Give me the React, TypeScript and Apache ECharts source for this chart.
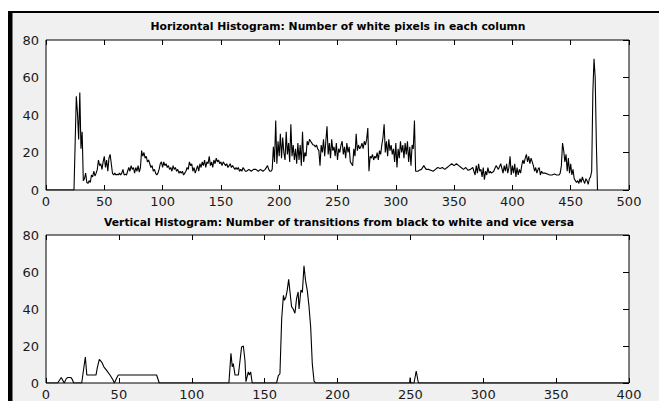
import React, { useEffect, useRef } from "react";
import * as echarts from "echarts";

// Column index -> number of white pixels (top plot)
const horizontalHistogram: [number, number][] = [
  [0, 0], [24, 0], [25, 25], [26, 50], [27, 41], [28, 27], [29, 52], [30, 22], [31, 31], [32, 5],
  [33, 6], [34, 9], [35, 4], [36, 3.5], [37, 5], [38, 4], [39, 8], [40, 7], [41, 10], [42, 7.5],
  [43, 9], [44, 11], [45, 16], [46, 13], [47, 14], [48, 11], [49, 15], [50, 18], [51, 12], [52, 16],
  [53, 10], [54, 17], [55, 19], [56, 14], [57, 9], [58, 8], [59, 9], [60, 8], [61, 8.5], [62, 8],
  [63, 9], [64, 8], [65, 9], [66, 11], [67, 8], [68, 8.5], [69, 8], [70, 10], [71, 12], [72, 10],
  [73, 13], [74, 11], [75, 12], [76, 9], [77, 12], [78, 10], [79, 13], [80, 9.5], [81, 12], [82, 21],
  [83, 18], [84, 20], [85, 17], [86, 18], [87, 15], [88, 16], [89, 14], [90, 12], [91, 13], [92, 10],
  [93, 11], [94, 9], [95, 8], [96, 9], [97, 11], [98, 14], [99, 15], [100, 12], [101, 15], [102, 13],
  [103, 14], [104, 12], [105, 13], [106, 11], [107, 12], [108, 10], [109, 13], [110, 11], [111, 12], [112, 10],
  [113, 11], [114, 9], [115, 10], [116, 9], [117, 10], [118, 8], [119, 9], [120, 10], [121, 12], [122, 11],
  [123, 15], [124, 13], [125, 14], [126, 10], [127, 12], [128, 9], [129, 11], [130, 13], [131, 10], [132, 14],
  [133, 12], [134, 15], [135, 13], [136, 16], [137, 12], [138, 15], [139, 14], [140, 18], [141, 13], [142, 15],
  [143, 12], [144, 16], [145, 14], [146, 17], [147, 15], [148, 16], [149, 14], [150, 15], [151, 13], [152, 15],
  [153, 14], [154, 13], [155, 14], [156, 12], [157, 13], [158, 14], [159, 12], [160, 13], [161, 12], [162, 11],
  [163, 12], [164, 11], [165, 12], [166, 10], [167, 11], [168, 10], [169, 12], [170, 11], [171, 10], [172, 10],
  [174, 11], [176, 10], [178, 11], [180, 11], [182, 10], [184, 11], [186, 10], [188, 11], [190, 13], [191, 11],
  [192, 10], [193, 10], [194, 11], [195, 23], [196, 15], [197, 37], [198, 14], [199, 26], [200, 18], [201, 30],
  [202, 17], [203, 28], [204, 20], [205, 16], [206, 31], [207, 19], [208, 25], [209, 15], [210, 35], [211, 18],
  [212, 24], [213, 16], [214, 22], [215, 14], [216, 25], [217, 16], [218, 24], [219, 13], [220, 31], [221, 15],
  [222, 20], [223, 18], [224, 26], [225, 24], [226, 27], [227, 26], [228, 25], [229, 24], [230, 24], [231, 23],
  [232, 24], [233, 22], [234, 21], [235, 13], [236, 24], [237, 20], [238, 27], [239, 18], [240, 26], [241, 34],
  [242, 19], [243, 25], [244, 17], [245, 27], [246, 21], [247, 23], [248, 18], [249, 25], [250, 16], [251, 22],
  [252, 20], [253, 24], [254, 26], [255, 19], [256, 23], [257, 17], [258, 25], [259, 20], [260, 23], [261, 15],
  [262, 14], [263, 13], [264, 22], [265, 18], [266, 30], [267, 21], [268, 24], [269, 22], [270, 23], [271, 25],
  [272, 22], [273, 26], [274, 24], [275, 27], [276, 33], [277, 10], [278, 18], [279, 17], [280, 19], [281, 16],
  [282, 18], [283, 17], [284, 20], [285, 16], [286, 21], [287, 19], [288, 24], [289, 28], [290, 35], [291, 20],
  [292, 26], [293, 18], [294, 27], [295, 21], [296, 24], [297, 19], [298, 22], [299, 15], [300, 25], [301, 12],
  [302, 22], [303, 17], [304, 26], [305, 20], [306, 24], [307, 17], [308, 25], [309, 19], [310, 26], [311, 15],
  [312, 23], [313, 13], [314, 24], [315, 22], [316, 37], [317, 10], [318, 10], [319, 10], [320, 10.5], [322, 11],
  [324, 13], [326, 11], [328, 11], [330, 10.5], [332, 10], [334, 11], [336, 12], [338, 11.5], [340, 12], [342, 11],
  [344, 12], [346, 13], [348, 14], [350, 13], [352, 14], [354, 13], [356, 12], [358, 11], [360, 12], [362, 10.5],
  [364, 11], [366, 12], [368, 8], [369, 13], [370, 9], [371, 14], [372, 10], [373, 11], [374, 7], [375, 12],
  [376, 5.5], [377, 10], [378, 8], [379, 12], [380, 9], [381, 10], [382, 9], [384, 10], [386, 13], [388, 11],
  [390, 14], [392, 9], [393, 13], [394, 10], [395, 14], [396, 9], [397, 12], [398, 18], [399, 8], [400, 13],
  [401, 9], [402, 14], [403, 7], [404, 12], [405, 8], [406, 11], [407, 9], [408, 13], [409, 16], [410, 14],
  [411, 17], [412, 19], [413, 15], [414, 18], [415, 14], [416, 17], [417, 15], [418, 13], [419, 10], [420, 12],
  [421, 9], [422, 11], [423, 12], [424, 8], [425, 10], [426, 9], [428, 9], [430, 8.5], [432, 8], [434, 8],
  [436, 8.5], [438, 8], [440, 8], [441, 9], [442, 13], [443, 25], [444, 21], [445, 15], [446, 19], [447, 10],
  [448, 17], [449, 9], [450, 14], [451, 8], [452, 11], [453, 6], [454, 5], [455, 4], [456, 5], [457, 3.5],
  [458, 6], [459, 4], [460, 7], [461, 5], [462, 3.5], [463, 6], [464, 5], [465, 3], [466, 6], [467, 7],
  [468, 10], [469, 52], [470, 70], [471, 60], [472, 25], [473, 0],
];

// Row index -> number of black/white transitions (bottom plot)
const verticalHistogram: [number, number][] = [
  [0, 0], [8, 0], [10.5, 3], [12.5, 0], [14, 2.5], [15, 3], [17, 3], [18, 2], [19, 0], [24.5, 0],
  [26, 8.5], [27, 14], [28, 4.3], [34.3, 4.3], [35.3, 8.6], [36.6, 12.8], [38.2, 11.3], [39.8, 8.6], [41.6, 6.8], [43.9, 4.3],
  [45.7, 2], [46.9, 0], [48.5, 2.7], [49.6, 4.3], [75.9, 4.3], [77.7, 0], [125.5, 0], [126.2, 8], [126.9, 16], [127.8, 8.7],
  [128.5, 10.5], [129.7, 4.3], [132, 4.3], [134.2, 19.5], [135.4, 20], [136.5, 12.3], [137.2, 0.7], [138.8, 6], [139.5, 4.3], [140.4, 6],
  [141.5, 0], [158.2, 0], [159.4, 4], [160.5, 5], [161.7, 34.7], [162.9, 47.4], [163.6, 44.7], [164.6, 46.5], [165.5, 50.1], [166.5, 56],
  [167.4, 49.2], [168.5, 41.3], [169.6, 40], [170.8, 37.7], [171.9, 45.6], [173, 49.2], [173.6, 40], [174.2, 44.7], [174.9, 50.3], [175.9, 49],
  [177, 63.3], [178.1, 55.2], [179.3, 49.8], [180.4, 41.8], [181.6, 30.2], [182.7, 10.5], [183.9, 1], [185, 0], [249.5, 0], [249.8, 3],
  [250.3, 0], [252.5, 0], [254, 6.5], [255.4, 0.4], [256, 0], [400, 0],
];

const topTitle = "Horizontal Histogram: Number of white pixels in each column";
const bottomTitle = "Vertical Histogram: Number of transitions from black to white and vice versa";

const topXMax = 500;
const bottomXMax = 400;
const yMax = 80;
const xStep = 50;
const yStep = 20;

const FONT = "DejaVu Sans, Verdana, sans-serif";

export default function App() {
  const ref = useRef<HTMLDivElement>(null);

  useEffect(() => {
    if (!ref.current) return;
    const chart = echarts.init(ref.current, undefined, { renderer: "svg" });

    const tick = (length: number) => ({ show: true, inside: true, length, lineStyle: { color: "#000", width: 1 } });

    const mainX = (gridIndex: number, max: number) => ({
      type: "value",
      gridIndex,
      position: "bottom",
      min: 0,
      max,
      interval: xStep,
      axisLine: { show: false, onZero: false },
      axisTick: tick(5),
      axisLabel: { show: true, color: "#1a1a1a", fontSize: 13, fontFamily: FONT, margin: 5 },
      splitLine: { show: false },
    });
    const mirrorX = (gridIndex: number, max: number) => ({
      type: "value",
      gridIndex,
      position: "top",
      min: 0,
      max,
      interval: xStep,
      axisLine: { show: false, onZero: false },
      axisTick: tick(5),
      axisLabel: { show: false },
      splitLine: { show: false },
    });
    const mainY = (gridIndex: number) => ({
      type: "value",
      gridIndex,
      position: "left",
      min: 0,
      max: yMax,
      interval: yStep,
      axisLine: { show: false, onZero: false },
      axisTick: { show: false },
      axisLabel: { show: true, color: "#1a1a1a", fontSize: 13, fontFamily: FONT, margin: 7 },
      splitLine: { show: false },
    });
    const mirrorY = (gridIndex: number) => ({
      type: "value",
      gridIndex,
      position: "right",
      min: 0,
      max: yMax,
      interval: yStep,
      axisLine: { show: false, onZero: false },
      axisTick: tick(6),
      axisLabel: { show: false },
      splitLine: { show: false },
    });

    chart.setOption({
      animation: false,
      backgroundColor: "#f0f0f0",
      grid: [
        { left: 46, top: 40, width: 583, height: 150, show: true, backgroundColor: "#fff", borderColor: "#000", borderWidth: 1 },
        { left: 46, top: 235, width: 583, height: 148, show: true, backgroundColor: "#fff", borderColor: "#000", borderWidth: 1 },
      ],
      xAxis: [mainX(0, topXMax), mirrorX(0, topXMax), mainX(1, bottomXMax), mirrorX(1, bottomXMax)],
      yAxis: [mainY(0), mirrorY(0), mainY(1), mirrorY(1)],
      series: [
        {
          type: "line",
          xAxisIndex: 0,
          yAxisIndex: 0,
          data: horizontalHistogram,
          showSymbol: false,
          lineStyle: { color: "#000", width: 1.1 },
          z: 5,
        },
        {
          type: "line",
          xAxisIndex: 2,
          yAxisIndex: 2,
          data: verticalHistogram,
          showSymbol: false,
          lineStyle: { color: "#000", width: 1.1 },
          z: 5,
        },
      ],
      graphic: [
        { type: "rect", shape: { x: 0, y: 0, width: 659, height: 11 }, style: { fill: "#fff" }, z: 100 },
        { type: "rect", shape: { x: 0, y: 0, width: 8, height: 401 }, style: { fill: "#fff" }, z: 100 },
        { type: "rect", shape: { x: 8, y: 11, width: 651, height: 2 }, style: { fill: "#000" }, z: 101 },
        { type: "rect", shape: { x: 8, y: 11, width: 4.5, height: 390 }, style: { fill: "#000" }, z: 101 },
        {
          type: "text",
          x: 338,
          y: 26.5,
          style: { text: topTitle, fill: "#000", font: `bold 10.8px ${FONT}`, textAlign: "center", textVerticalAlign: "middle" },
          z: 102,
        },
        {
          type: "text",
          x: 339,
          y: 222.5,
          style: { text: bottomTitle, fill: "#000", font: `bold 10.8px ${FONT}`, textAlign: "center", textVerticalAlign: "middle" },
          z: 102,
        },
      ],
    });

    return () => chart.dispose();
  }, []);

  return <div ref={ref} style={{ position: "absolute", left: 0, top: 0, width: 659, height: 401 }} />;
}
